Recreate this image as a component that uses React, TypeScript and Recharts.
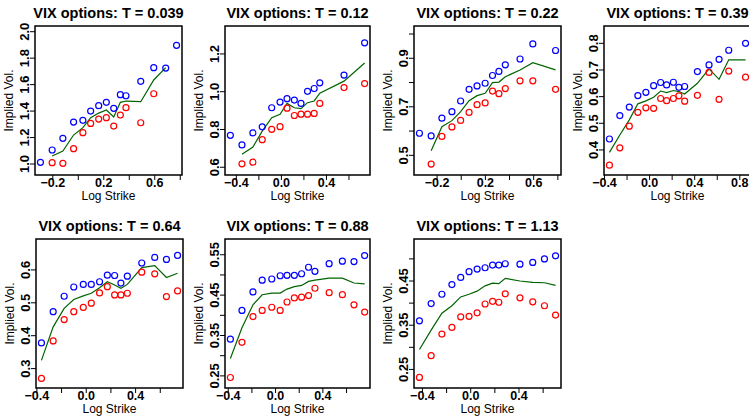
import React from 'react';
import { ComposedChart, XAxis, YAxis, Scatter, Line, ReferenceArea } from 'recharts';

// ---------- data (log strike, implied vol) ----------
const P1_X = [-0.297, -0.205, -0.121, -0.037, 0.036, 0.097, 0.16, 0.22, 0.278, 0.33, 0.374, 0.49, 0.592, 0.686, 0.771];
const P1_BLUE = [1.013, 1.106, 1.194, 1.317, 1.33, 1.4, 1.441, 1.466, 1.421, 1.524, 1.516, 1.625, 1.728, 1.725, 1.897];
const P1_RED = [null, 1.01, 1.005, 1.116, 1.237, 1.307, 1.34, 1.35, 1.287, 1.37, 1.426, 1.312, 1.531, null, null];
const P1_GREEN = [null, 1.06, 1.098, 1.219, 1.275, 1.35, 1.385, 1.408, 1.355, 1.466, 1.476, 1.471, 1.635, 1.728, null];

const P2_X = [-0.453, -0.35, -0.253, -0.17, -0.086, -0.012, 0.05, 0.115, 0.174, 0.232, 0.291, 0.341, 0.556, 0.739];
const P2_BLUE = [0.769, 0.718, 0.782, 0.814, 0.915, 0.945, 0.963, 0.956, 0.938, 1.002, 1.017, 1.047, 1.088, 1.259];
const P2_RED = [null, 0.618, 0.627, 0.746, 0.801, 0.815, 0.913, 0.874, 0.881, 0.881, 0.885, 0.938, 1.022, 1.043];
const P2_GREEN = [null, 0.669, 0.707, 0.791, 0.862, 0.88, 0.938, 0.915, 0.91, 0.942, 0.951, 0.992, 1.056, 1.152];

const P3_X = [-0.346, -0.249, -0.16, -0.077, -0.005, 0.065, 0.131, 0.198, 0.259, 0.312, 0.365, 0.487, 0.593, 0.781];
const P3_BLUE = [0.591, 0.58, 0.653, 0.68, 0.724, 0.772, 0.786, 0.797, 0.829, 0.846, 0.873, 0.897, 0.959, 0.932];
const P3_RED = [null, 0.464, 0.578, 0.617, 0.644, 0.677, 0.709, 0.716, 0.765, 0.754, 0.775, 0.807, 0.807, 0.772];
const P3_GREEN = [null, 0.519, 0.618, 0.643, 0.68, 0.725, 0.746, 0.756, 0.8, 0.802, 0.824, 0.852, 0.882, 0.852];

const P4_X = [-0.356, -0.264, -0.18, -0.104, -0.033, 0.036, 0.098, 0.151, 0.211, 0.26, 0.311, 0.424, 0.527, 0.616, 0.702, 0.851];
const P4_BLUE = [0.441, 0.529, 0.561, 0.604, 0.616, 0.641, 0.653, 0.644, 0.654, 0.635, 0.638, 0.694, 0.719, 0.74, 0.774, 0.8];
const P4_RED = [0.343, 0.408, 0.489, 0.541, 0.558, 0.556, 0.593, 0.585, 0.593, 0.603, 0.583, 0.605, 0.691, 0.59, 0.696, 0.673];
const P4_GREEN = [0.391, 0.456, 0.513, 0.573, 0.584, 0.598, 0.621, 0.615, 0.623, 0.619, 0.61, 0.65, 0.704, 0.665, 0.738, 0.738];

const P5_X = [-0.363, -0.268, -0.179, -0.101, -0.024, 0.041, 0.108, 0.171, 0.23, 0.281, 0.333, 0.45, 0.555, 0.65, 0.74];
const P5_BLUE = [0.378, 0.473, 0.52, 0.548, 0.556, 0.556, 0.564, 0.584, 0.583, 0.56, 0.581, 0.621, 0.638, 0.632, 0.644];
const P5_RED = [0.27, 0.384, 0.449, 0.473, 0.486, 0.499, 0.53, 0.549, 0.524, 0.524, 0.529, 0.593, 0.588, 0.519, 0.536];
const P5_GREEN = [0.325, 0.427, 0.483, 0.51, 0.521, 0.529, 0.546, 0.564, 0.554, 0.544, 0.556, 0.607, 0.613, 0.577, 0.59];

const P6_X = [-0.382, -0.284, -0.191, -0.113, -0.032, 0.039, 0.097, 0.159, 0.22, 0.279, 0.333, 0.453, 0.565, 0.663, 0.753];
const P6_BLUE = [0.341, 0.412, 0.458, 0.487, 0.49, 0.498, 0.499, 0.499, 0.503, 0.519, 0.509, 0.528, 0.534, 0.533, 0.548];
const P6_RED = [0.246, 0.333, 0.397, 0.412, 0.42, 0.412, 0.433, 0.443, 0.445, 0.449, 0.467, 0.456, 0.451, 0.426, 0.408];
const P6_GREEN = [0.293, 0.369, 0.426, 0.451, 0.455, 0.455, 0.465, 0.471, 0.474, 0.484, 0.487, 0.492, 0.492, 0.48, 0.478];

const P7_X = [-0.425, -0.328, -0.239, -0.156, -0.083, -0.014, 0.053, 0.119, 0.181, 0.233, 0.286, 0.408, 0.514, 0.611, 0.703];
const P7_BLUE = [0.36, 0.399, 0.42, 0.442, 0.458, 0.471, 0.477, 0.48, 0.486, 0.486, 0.489, 0.488, 0.492, 0.5, 0.507];
const P7_RED = [0.232, 0.281, 0.33, 0.345, 0.369, 0.37, 0.378, 0.398, 0.404, 0.402, 0.421, 0.412, 0.403, 0.394, 0.373];
const P7_GREEN = [0.295, 0.339, 0.377, 0.394, 0.414, 0.42, 0.427, 0.439, 0.445, 0.444, 0.456, 0.45, 0.447, 0.446, 0.44];

const MATURITIES = ['0.039', '0.12', '0.22', '0.39', '0.64', '0.88', '1.13'];

const Y_TICKS = [
  [1.0, 1.2, 1.4, 1.6, 1.8, 2.0],
  [0.6, 0.8, 1.0, 1.2],
  [0.5, 0.6, 0.7, 0.8, 0.9, 1.0],
  [0.4, 0.5, 0.6, 0.7, 0.8],
  [0.3, 0.4, 0.5, 0.6],
  [0.25, 0.3, 0.35, 0.4, 0.45, 0.5, 0.55],
  [0.25, 0.3, 0.35, 0.4, 0.45, 0.5],
];
const Y_LABELED = [
  [1.0, 1.2, 1.4, 1.6, 1.8, 2.0],
  [0.6, 0.8, 1.0, 1.2],
  [0.5, 0.7, 0.9],
  [0.4, 0.5, 0.6, 0.7, 0.8],
  [0.3, 0.4, 0.5, 0.6],
  [0.25, 0.35, 0.45, 0.55],
  [0.25, 0.35, 0.45],
];
const Y_DOMAINS = [
  [0.917, 2.043],
  [0.559, 1.348],
  [0.419, 1.033],
  [0.306, 0.865],
  [0.241, 0.694],
  [0.22, 0.589],
  [0.208, 0.545],
];
const Y_DECIMALS = [1, 1, 1, 1, 1, 2, 2];
const X_TICK_VALUES = [-0.4, -0.2, 0, 0.2, 0.4, 0.6, 0.8];
const X_LABELED = [
  [-0.2, 0.2, 0.6],
  [-0.4, 0, 0.4],
  [-0.2, 0.2, 0.6],
  [-0.4, 0, 0.4, 0.8],
  [-0.4, 0, 0.4],
  [-0.4, 0, 0.4],
  [-0.4, 0, 0.4],
];

// ---------- layout ----------
const BOXES = [
  { left: 35, top: 26, w: 147, h: 149 },
  { left: 225, top: 26, w: 145, h: 149 },
  { left: 414, top: 26, w: 147, h: 149 },
  { left: 604, top: 26, w: 147, h: 149 },
  { left: 36, top: 239, w: 147, h: 149 },
  { left: 225, top: 239, w: 145, h: 149 },
  { left: 414, top: 239, w: 147, h: 149 },
];

const SERIES = [
  [P1_X, P1_BLUE, P1_RED, P1_GREEN],
  [P2_X, P2_BLUE, P2_RED, P2_GREEN],
  [P3_X, P3_BLUE, P3_RED, P3_GREEN],
  [P4_X, P4_BLUE, P4_RED, P4_GREEN],
  [P5_X, P5_BLUE, P5_RED, P5_GREEN],
  [P6_X, P6_BLUE, P6_RED, P6_GREEN],
  [P7_X, P7_BLUE, P7_RED, P7_GREEN],
];

const FONT = 'Liberation Sans, Arial, Helvetica, sans-serif';
const BLUE = '#0000ff';
const RED = '#ff0000';
const GREEN = '#006400';

const near = (a: number, b: number) => Math.abs(a - b) < 1e-9;
const fmt = (v: number, d: number) => {
  const s = Math.abs(v).toFixed(d);
  return v < -1e-9 ? '\u2212' + s : s;
};

const toPoints = (xs: number[], ys: (number | null)[]) =>
  xs.map((x, i) => ({ x, y: ys[i] })).filter((p) => p.y !== null && p.y !== undefined) as { x: number; y: number }[];

const circleShape = (color: string) => (p: any) =>
  <circle cx={p.cx} cy={p.cy} r={3} fill="none" stroke={color} strokeWidth={1.2} />;

function Panel({ idx }: { idx: number }) {
  const box = BOXES[idx];
  const [xs, blue, red, green] = SERIES[idx] as [number[], (number | null)[], (number | null)[], (number | null)[]];
  const xmin = Math.min(...xs);
  const xmax = Math.max(...xs);
  const r = xmax - xmin;
  const xd: [number, number] = [xmin - 0.04 * r, xmax + 0.04 * r];
  const yd = Y_DOMAINS[idx] as [number, number];
  const xticks = X_TICK_VALUES.filter((t) => t >= xd[0] - 1e-9 && t <= xd[1] + 1e-9);
  const yticks = Y_TICKS[idx];

  const ML = 42, MT = 30, MR = 6, MB = 44;
  const W = box.w + ML + MR;
  const H = box.h + MT + MB;

  const xTick = (p: any) => {
    const v = p.payload.value;
    const show = X_LABELED[idx].some((l) => near(l, v));
    return (
      <text x={p.x} y={p.y + 6.5} textAnchor="middle" fontSize={12.5} fontWeight="bold" fontFamily={FONT} fill="#000">
        {show ? fmt(v, 1) : ''}
      </text>
    );
  };
  const yTick = (p: any) => {
    const v = p.payload.value;
    const show = Y_LABELED[idx].some((l) => near(l, v));
    const x = p.x - 0.5;
    return (
      <text x={x} y={p.y} transform={`rotate(-90, ${x}, ${p.y})`} textAnchor="middle" fontSize={13} fontWeight="bold" fontFamily={FONT} fill="#000">
        {show ? fmt(v, Y_DECIMALS[idx]) : ''}
      </text>
    );
  };

  const cx = ML + box.w / 2;
  const cy = MT + box.h / 2;

  return (
    <div style={{ position: 'absolute', left: box.left - ML, top: box.top - MT, width: W, height: H }}>
      <ComposedChart width={W} height={H} margin={{ top: MT, right: MR, bottom: 0, left: 0 }}>
        <XAxis
          type="number"
          dataKey="x"
          domain={xd}
          ticks={xticks}
          allowDataOverflow
          height={MB}
          tickSize={5}
          tickMargin={0}
          axisLine={false}
          tickLine={{ stroke: '#000', strokeWidth: 1 }}
          tick={xTick}
          interval={0}
        />
        <YAxis
          type="number"
          dataKey="y"
          domain={yd}
          ticks={yticks}
          allowDataOverflow
          width={ML}
          tickSize={5}
          tickMargin={0}
          axisLine={false}
          tickLine={{ stroke: '#000', strokeWidth: 1 }}
          tick={yTick}
          interval={0}
        />
        <ReferenceArea x1={xd[0]} x2={xd[1]} y1={yd[0]} y2={yd[1]} fill="none" fillOpacity={0} stroke="#000" strokeWidth={1.5} ifOverflow="visible" />
        <Line data={toPoints(xs, green)} dataKey="y" type="linear" stroke={GREEN} strokeWidth={1.2} dot={false} activeDot={false} isAnimationActive={false} />
        <Scatter data={toPoints(xs, blue)} dataKey="y" shape={circleShape(BLUE)} isAnimationActive={false} />
        <Scatter data={toPoints(xs, red)} dataKey="y" shape={circleShape(RED)} isAnimationActive={false} />
      </ComposedChart>
      <svg width={W} height={H} style={{ position: 'absolute', left: 0, top: 0, pointerEvents: 'none' }}>
        <text x={cx} y={MT - 8} textAnchor="middle" fontSize={14.5} fontWeight="bold" fontFamily={FONT} fill="#000">
          {`VIX options: T = ${MATURITIES[idx]}`}
        </text>
        <text x={ML - 22} y={cy} transform={`rotate(-90, ${ML - 22}, ${cy})`} textAnchor="middle" fontSize={12} fontFamily={FONT} fill="#000">
          Implied Vol.
        </text>
        <text x={cx} y={MT + box.h + 24.5} textAnchor="middle" fontSize={12} fontFamily={FONT} fill="#000">
          Log Strike
        </text>
      </svg>
    </div>
  );
}

export default function App() {
  return (
    <div style={{ position: 'absolute', left: 0, top: 0, width: 749, height: 416, background: '#fff', overflow: 'hidden' }}>
      {BOXES.map((_, i) => (
        <Panel key={i} idx={i} />
      ))}
    </div>
  );
}
